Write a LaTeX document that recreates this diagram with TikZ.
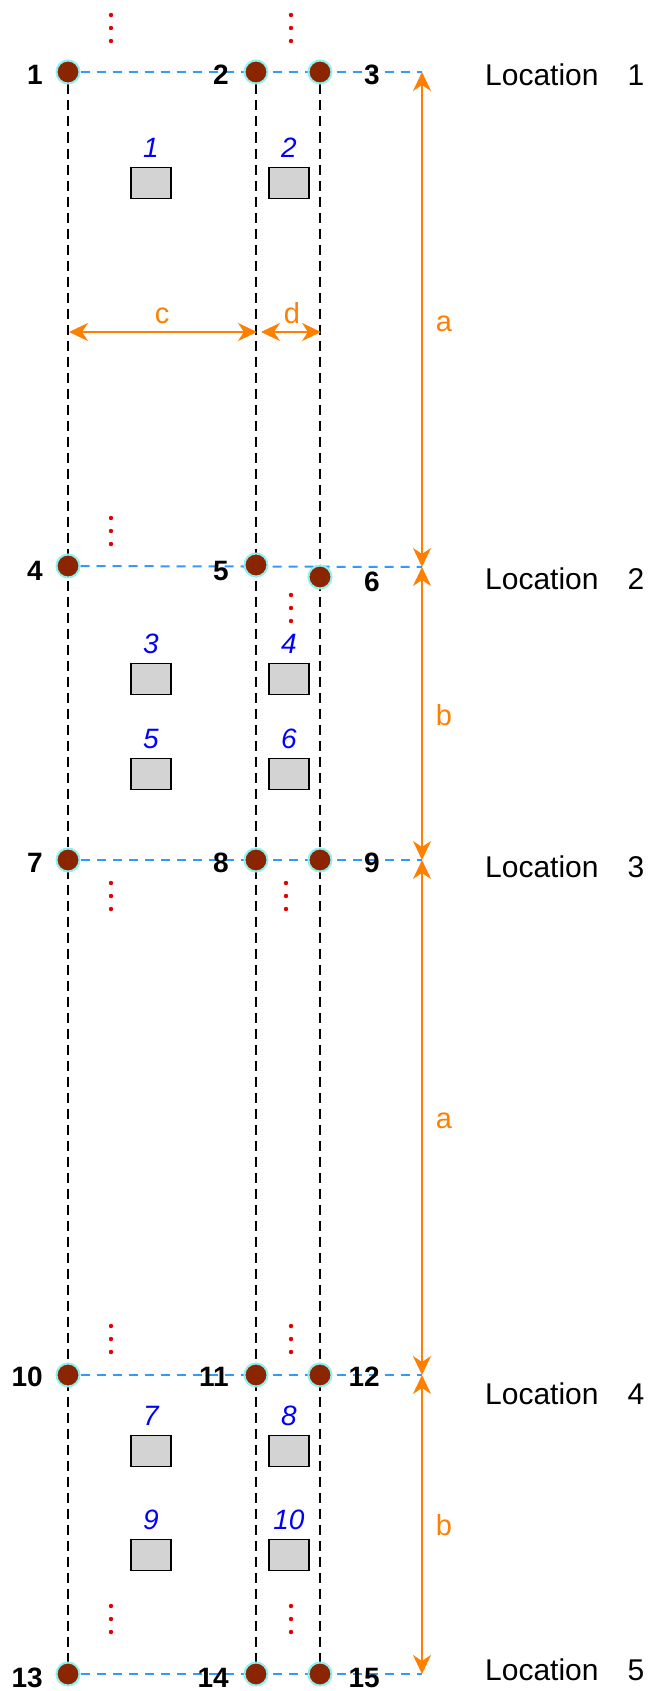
\documentclass[tikz,border=0pt]{standalone}
\usepackage{fontspec}
\setmainfont{Liberation Sans}
\usetikzlibrary{arrows.meta, positioning, backgrounds}

\definecolor{vertexfill}{RGB}{139,37,0}
\definecolor{vertexring}{RGB}{140,240,240}
\definecolor{rowblue}{RGB}{51,153,255}
\definecolor{dimorange}{RGB}{255,128,0}
\definecolor{dotred}{RGB}{230,0,0}
\definecolor{boxgray}{RGB}{211,211,211}

\begin{document}
\begin{tikzpicture}[x = 1pt, y = -1pt]
\tikzstyle{VertexStyle}=[shape = circle,
                         fill = vertexfill,
                         draw = vertexring,
                         line width = 2pt,
                         minimum size = 23pt,
                         inner sep = 0pt]
\tikzstyle{NumStyle}=[anchor = east, inner sep = 0pt, font = \fontsize{28}{30}\selectfont\bfseries]
\tikzstyle{BoxStyle}=[draw, fill = boxgray, line width = 1.5pt, minimum width = 40pt, minimum height = 31pt, inner sep = 0pt]
\tikzstyle{BoxLabel}=[text = blue, inner sep = 0pt, font = \fontsize{28}{30}\selectfont\itshape]
\tikzstyle{LocStyle}=[anchor = west, inner sep = 0pt, font = \fontsize{30}{32}\selectfont]
\tikzstyle{DimLabel}=[text = dimorange, inner sep = 0pt, anchor = base, font = \fontsize{29}{30}\selectfont]
\tikzstyle{ColLine}=[black, line width = 2.5pt, dash pattern = on 10pt off 6pt]
\tikzstyle{RowLine}=[rowblue, line width = 2pt, dash pattern = on 9pt off 7pt]
\tikzstyle{DimArrow}=[dimorange, line width = 2pt,
                      {Stealth[length = 19pt, width = 18pt, inset = 6pt]}-{Stealth[length = 19pt, width = 18pt, inset = 6pt]}]
\useasboundingbox (0,0) rectangle (654,1691);
\node[VertexStyle] (v1) at (68,72) {};
\node[VertexStyle] (v2) at (256,72) {};
\node[VertexStyle] (v3) at (320,72) {};
\node[VertexStyle] (v4) at (68,566) {};
\node[VertexStyle] (v5) at (256,565) {};
\node[VertexStyle] (v6) at (320,577) {};
\node[VertexStyle] (v7) at (68,860) {};
\node[VertexStyle] (v8) at (256,860) {};
\node[VertexStyle] (v9) at (320,860) {};
\node[VertexStyle] (v10) at (68,1375) {};
\node[VertexStyle] (v11) at (256,1375) {};
\node[VertexStyle] (v12) at (320,1375) {};
\node[VertexStyle] (v13) at (68,1674) {};
\node[VertexStyle] (v14) at (256,1674) {};
\node[VertexStyle] (v15) at (320,1674) {};
\node[NumStyle] (n1) at (43,75) {1};
\node[NumStyle] (n2) at (229,75) {2};
\node[NumStyle] (n3) at (380,75) {3};
\node[NumStyle] (n4) at (43,571) {4};
\node[NumStyle] (n5) at (229,571) {5};
\node[NumStyle] (n6) at (380,582) {6};
\node[NumStyle] (n7) at (43,863) {7};
\node[NumStyle] (n8) at (229,863) {8};
\node[NumStyle] (n9) at (380,863) {9};
\node[NumStyle] (n10) at (43,1377) {10};
\node[NumStyle] (n11) at (229,1377) {11};
\node[NumStyle] (n12) at (380,1377) {12};
\node[NumStyle] (n13) at (43,1678) {13};
\node[NumStyle] (n14) at (229,1678) {14};
\node[NumStyle] (n15) at (380,1678) {15};
\node[BoxStyle] (b1) at (151,183) {};
\node[BoxStyle] (b2) at (289,183) {};
\node[BoxStyle] (b3) at (151,679) {};
\node[BoxStyle] (b4) at (289,679) {};
\node[BoxStyle] (b5) at (151,774) {};
\node[BoxStyle] (b6) at (289,774) {};
\node[BoxStyle] (b7) at (151,1451) {};
\node[BoxStyle] (b8) at (289,1451) {};
\node[BoxStyle] (b9) at (151,1555) {};
\node[BoxStyle] (b10) at (289,1555) {};
\foreach \i in {1,...,10}
  \node[BoxLabel, above = 9pt of b\i] (l\i) {\i};
\coordinate (r1) at (422,72);
\coordinate (r2) at (422,567);
\coordinate (r3) at (422,860);
\coordinate (r4) at (422,1375);
\coordinate (r5) at (422,1674);
\coordinate (c1) at (69,332);
\coordinate (c2) at (257,332);
\coordinate (d1) at (261,332);
\coordinate (d2) at (321,332);
\node[LocStyle] (loc1) at (485,75) {Location\hspace{29pt}1};
\node[LocStyle] (loc2) at (485,579) {Location\hspace{29pt}2};
\node[LocStyle] (loc3) at (485,867) {Location\hspace{29pt}3};
\node[LocStyle] (loc4) at (485,1394) {Location\hspace{29pt}4};
\node[LocStyle] (loc5) at (485,1670) {Location\hspace{29pt}5};
\begin{pgfonlayer}{background}
\draw[ColLine] (v1) -- (v13);
\draw[ColLine] (v2) -- (v14);
\draw[ColLine] (v3) -- (v15);
\draw[RowLine] (v1) -- (r1);
\draw[RowLine] (v4) -- (r2);
\draw[RowLine] (v7) -- (r3);
\draw[RowLine] (v10) -- (r4);
\draw[RowLine] (v13) -- (r5);
\end{pgfonlayer}
\draw[DimArrow] (r1) -- (r2);
\draw[DimArrow] (r2) -- (r3);
\draw[DimArrow] (r3) -- (r4);
\draw[DimArrow] (r4) -- (r5);
\draw[DimArrow] (c1) -- (c2);
\draw[DimArrow] (d1) -- (d2);
\node[DimLabel] (la1) at (444,331) {a};
\node[DimLabel] (lb1) at (444,725) {b};
\node[DimLabel] (la2) at (444,1128) {a};
\node[DimLabel] (lb2) at (444,1535) {b};
\node[DimLabel] (lc) at (162,323) {c};
\node[DimLabel] (ld) at (292,323) {d};
\foreach \x/\y in {111/28, 291/28, 111/531, 291/608, 111/896, 286/896, 111/1339, 291/1339, 111/1619, 291/1619}
  \foreach \k in {0,1,2}
    \fill[dotred] (\x,\y-13+13*\k) circle (2.2pt);
\end{tikzpicture}
\end{document}
